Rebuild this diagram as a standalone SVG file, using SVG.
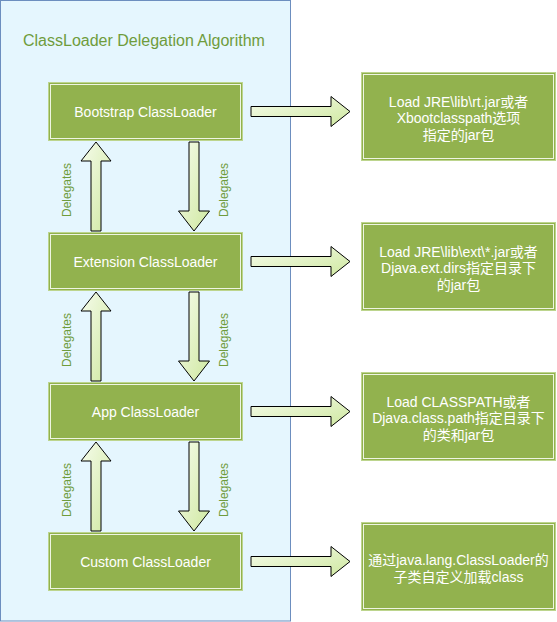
<svg xmlns="http://www.w3.org/2000/svg" width="557" height="622" viewBox="0 0 557 622">
<defs>
<linearGradient id="ag" x1="0" y1="0" x2="1" y2="1">
<stop offset="0" stop-color="#f6fcec"/>
<stop offset="1" stop-color="#cfe8a0"/>
</linearGradient>
<style>
.box{fill:#92b24e;stroke:#bdd58e;stroke-width:1}
.inner{fill:none;stroke:#eef5e2;stroke-width:1}
.lbl{font-family:"Liberation Sans","Noto Sans CJK SC",sans-serif;font-size:14px;fill:#ffffff;text-anchor:middle}
.arr{fill:url(#ag);stroke:#000;stroke-width:1;stroke-linejoin:miter}
.del{font-family:"Liberation Sans",sans-serif;font-size:12px;fill:#6f9c3c;text-anchor:middle}
</style>
</defs>
<rect id="container" x="0.5" y="0.5" width="290" height="620.5" fill="#e5f6fe" stroke="#6c8ebf"/>
<text id="title" x="23" y="46" font-family="Liberation Sans, sans-serif" font-size="16" fill="#6f9c3c">ClassLoader Delegation Algorithm</text>

<g id="connectors">
<polygon class="arr" points="96,142 111,161 101,161 101,231 91,231 91,161 81,161"/>
<polygon class="arr" points="189,142 199,142 199,211 209.5,211 194,231 178.5,211 189,211"/>
<polygon class="arr" points="96,292 111,311 101,311 101,381 91,381 91,311 81,311"/>
<polygon class="arr" points="189,292 199,292 199,361 209.5,361 194,381 178.5,361 189,361"/>
<polygon class="arr" points="96,442 111,461 101,461 101,531 91,531 91,461 81,461"/>
<polygon class="arr" points="189,442 199,442 199,511 209.5,511 194,531 178.5,511 189,511"/>
<polygon class="arr" points="251,106.5 331,106.5 331,96.5 350,111.5 331,126.5 331,116.5 251,116.5"/>
<polygon class="arr" points="251,256.5 331,256.5 331,246.5 350,261.5 331,276.5 331,266.5 251,266.5"/>
<polygon class="arr" points="251,406.5 331,406.5 331,396.5 350,411.5 331,426.5 331,416.5 251,416.5"/>
<polygon class="arr" points="251,556.5 331,556.5 331,546.5 350,561.5 331,576.5 331,566.5 251,566.5"/>
<text class="del" transform="translate(71,190) rotate(-90)">Delegates</text>
<text class="del" transform="translate(228,190) rotate(-90)">Delegates</text>
<text class="del" transform="translate(71,340) rotate(-90)">Delegates</text>
<text class="del" transform="translate(228,340) rotate(-90)">Delegates</text>
<text class="del" transform="translate(71,490) rotate(-90)">Delegates</text>
<text class="del" transform="translate(228,490) rotate(-90)">Delegates</text>
</g>

<g id="bootstrap">
<rect class="box" x="48.5" y="82.5" width="194" height="58"/>
<rect class="inner" x="50.5" y="84.5" width="190" height="54"/>
<text class="lbl" x="145.5" y="116.5">Bootstrap ClassLoader</text>
</g>
<g id="extension">
<rect class="box" x="48.5" y="232.5" width="194" height="58"/>
<rect class="inner" x="50.5" y="234.5" width="190" height="54"/>
<text class="lbl" x="145.5" y="266.5">Extension ClassLoader</text>
</g>
<g id="app">
<rect class="box" x="48.5" y="382.5" width="194" height="58"/>
<rect class="inner" x="50.5" y="384.5" width="190" height="54"/>
<text class="lbl" x="145.5" y="416.5">App ClassLoader</text>
</g>
<g id="custom">
<rect class="box" x="48.5" y="532.5" width="194" height="58"/>
<rect class="inner" x="50.5" y="534.5" width="190" height="54"/>
<text class="lbl" x="145.5" y="566.5">Custom ClassLoader</text>
</g>

<g id="desc-bootstrap">
<rect class="box" x="361.5" y="72.5" width="194" height="88"/>
<rect class="inner" x="363.5" y="74.5" width="190" height="84"/>
<text class="lbl" x="458.5" y="106.5">Load JRE\lib\rt.jar或者</text>
<text class="lbl" x="458.5" y="123">Xbootclasspath选项</text>
<text class="lbl" x="458.5" y="139.5">指定的jar包</text>
</g>
<g id="desc-extension">
<rect class="box" x="361.5" y="222.5" width="194" height="88"/>
<rect class="inner" x="363.5" y="224.5" width="190" height="84"/>
<text class="lbl" x="458.5" y="256.5">Load JRE\lib\ext\*.jar或者</text>
<text class="lbl" x="458.5" y="273">Djava.ext.dirs指定目录下</text>
<text class="lbl" x="458.5" y="289.5">的jar包</text>
</g>
<g id="desc-app">
<rect class="box" x="361.5" y="372.5" width="194" height="88"/>
<rect class="inner" x="363.5" y="374.5" width="190" height="84"/>
<text class="lbl" x="458.5" y="406.5">Load CLASSPATH或者</text>
<text class="lbl" x="458.5" y="423">Djava.class.path指定目录下</text>
<text class="lbl" x="458.5" y="439.5">的类和jar包</text>
</g>
<g id="desc-custom">
<rect class="box" x="361.5" y="522.5" width="194" height="88"/>
<rect class="inner" x="363.5" y="524.5" width="190" height="84"/>
<text class="lbl" x="458.5" y="565">通过java.lang.ClassLoader的</text>
<text class="lbl" x="458.5" y="581.5">子类自定义加载class</text>
</g>
</svg>
